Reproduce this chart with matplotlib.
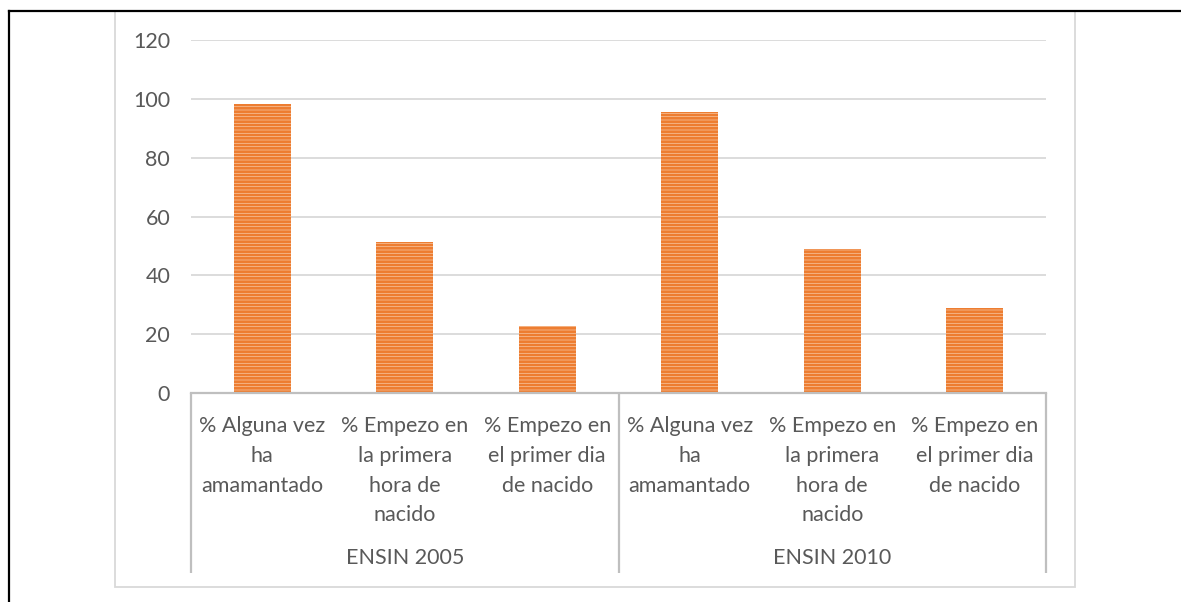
import matplotlib
matplotlib.use("Agg")
import matplotlib.pyplot as plt
from matplotlib.lines import Line2D
from matplotlib.patches import Rectangle

# ---- data ----
categories = [
    "% Alguna vez\nha\namamantado",
    "% Empezo en\nla primera\nhora de\nnacido",
    "% Empezo en\nel primer dia\nde nacido",
    "% Alguna vez\nha\namamantado",
    "% Empezo en\nla primera\nhora de\nnacido",
    "% Empezo en\nel primer dia\nde nacido",
]
groups = ["ENSIN 2005", "ENSIN 2010"]
group_sizes = [3, 3]
values = [98.2, 51.5, 22.8, 95.6, 49.0, 28.8]
yticks = [0, 20, 40, 60, 80, 100, 120]

# ---- style ----
TEXT = "#595959"
GRID = "#D9D9D9"
AXIS = "#BFBFBF"
ORANGE = "#ED7D31"
LIGHT = "#F8C7A3"
FONT = "Lato"
FS = 15.5

plt.rcParams["hatch.linewidth"] = 1.9
plt.rcParams["font.family"] = [FONT, "DejaVu Sans"]

W, H = 1181, 602
fig = plt.figure(figsize=(W / 100, H / 100), dpi=100)

def fx(px):
    return px / W

def fy(py):
    return 1 - py / H

# screenshot frame (black top + left) and chart area border
fig.add_artist(Rectangle((fx(115), fy(587)), fx(1075) - fx(115), fy(11) - fy(587),
                         transform=fig.transFigure, fill=False, edgecolor=GRID, lw=1.3))
fig.add_artist(Line2D([fx(9), fx(9)], [0, fy(10.5)], transform=fig.transFigure,
                      color="black", lw=1.6))
fig.add_artist(Line2D([fx(9), 1], [fy(10.5), fy(10.5)], transform=fig.transFigure,
                      color="black", lw=1.6))

ax = fig.add_axes([fx(191), fy(393), fx(1046) - fx(191), fy(40.2) - fy(393)])
x = list(range(len(values)))
ax.bar(x, values, width=0.4, color=LIGHT, edgecolor=ORANGE, linewidth=0,
       hatch="-----", zorder=3)
ax.set_xlim(-0.5, len(values) - 0.5)
ax.set_ylim(0, 120)
ax.set_yticks(yticks)
ax.set_yticklabels([str(t) for t in yticks], fontsize=FS, color=TEXT)
ax.tick_params(axis="y", length=0, pad=15)
ax.set_xticks([])
ax.grid(axis="y", color=GRID, lw=1.3, zorder=0)
for s in ["top", "right", "left"]:
    ax.spines[s].set_visible(False)
ax.spines["bottom"].set_color(AXIS)
ax.spines["bottom"].set_linewidth(1.6)
ax.spines["bottom"].set_zorder(4)

trans = ax.get_xaxis_transform()
hpx = 393 - 40.2

def ay(py):
    return (393 - py) / hpx

# separators of the multi-level category axis
bounds = [-0.5]
for g in group_sizes:
    bounds.append(bounds[-1] + g)
for b in bounds:
    ax.plot([b, b], [0, ay(573)], transform=trans, color=AXIS, lw=1.6,
            clip_on=False, solid_capstyle="butt")

# category labels
for xi, lab in zip(x, categories):
    ax.text(xi, ay(416), lab, transform=trans, ha="center", va="top",
            fontsize=FS, color=TEXT, linespacing=1.61, multialignment="center")

# group labels
start = -0.5
for g, n in zip(groups, group_sizes):
    ax.text(start + n / 2, ay(558), g, transform=trans, ha="center", va="center",
            fontsize=FS, color=TEXT)
    start += n

fig.savefig("out.png", dpi=100)
